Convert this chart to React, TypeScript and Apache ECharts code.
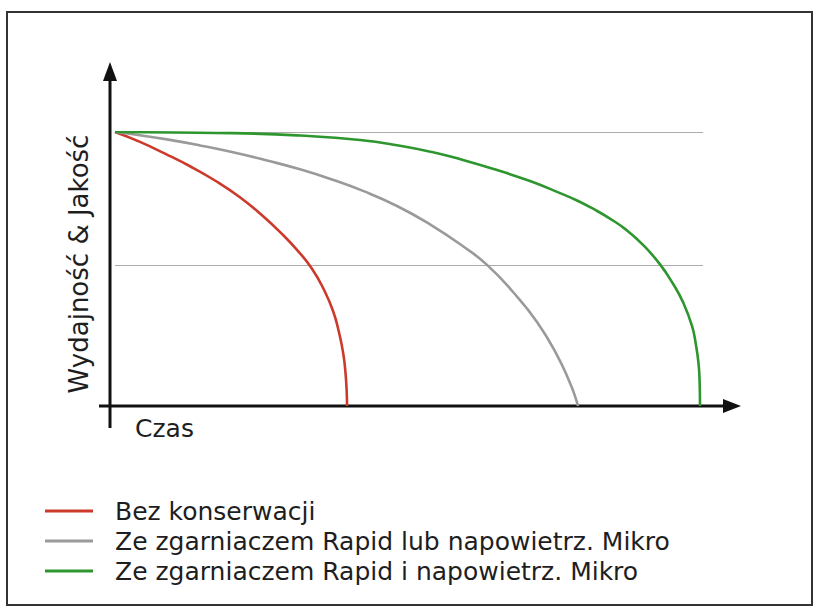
import React, { useEffect, useRef } from "react";
import * as echarts from "echarts";

const seriesNames = [
  "Bez konserwacji",
  "Ze zgarniaczem Rapid lub napowietrz. Mikro",
  "Ze zgarniaczem Rapid i napowietrz. Mikro",
];

const redData: [number, number][] = [
  [0, 100], [4.25, 96.4], [8.5, 92.1], [12.76, 87.5], [17.0, 82.3], [21.3, 76.1],
  [25.0, 69.6], [28.4, 62.8], [31.1, 56.6], [33.5, 50.1], [35.5, 42.6], [37.1, 34.6],
  [38.1, 26.8], [38.8, 19.4], [39.2, 12.1], [39.4, 5.5], [39.46, 0],
];

const grayData: [number, number][] = [
  [0, 100], [4.25, 98.8], [8.84, 97.3], [14.46, 95.1], [20.07, 92.6], [25.85, 89.6],
  [31.46, 86.4], [36.9, 82.7], [42.18, 78.5], [47.96, 73.0], [53.57, 66.3], [59.18, 58.3],
  [63.27, 51.5], [67.69, 41.6], [71.77, 30.7], [75.17, 18.6], [77.38, 8.4], [78.23, 3.6],
  [78.74, 0],
];

const greenData: [number, number][] = [
  [0, 100], [10.03, 99.8], [20.07, 99.6], [31.46, 98.7], [41.67, 97.1], [48.47, 95.0],
  [53.91, 92.7], [59.18, 89.8], [64.97, 86.1], [70.58, 82.1], [75.68, 77.7], [78.57, 75.0],
  [81.29, 72.0], [84.18, 68.4], [87.07, 64.1], [89.8, 58.8], [92.69, 51.7], [94.9, 44.6],
  [96.6, 37.9], [98.13, 29.2], [98.8, 22.3], [99.27, 14.9], [99.44, 7.5], [99.49, 0],
];

const gridLineValues = [100, 51.5];

const colors = ["#cc3a2c", "#9a9a9a", "#2e962f"];

const yLabel = "Wydajność & Jakość";
const xLabel = "Czas";

export default function App() {
  const ref = useRef<HTMLDivElement>(null);
  useEffect(() => {
    if (!ref.current) return;
    const chart = echarts.init(ref.current, null, { renderer: "svg" });
    const font = "DejaVu Sans";
    const datas = [redData, grayData, greenData];
    chart.setOption({
      animation: false,
      backgroundColor: "#ffffff",
      grid: { left: 115, right: 116, top: 132, bottom: 206 },
      xAxis: { type: "value", min: 0, max: 100, show: false },
      yAxis: { type: "value", min: 0, max: 100, show: false },
      legend: {
        orient: "vertical",
        left: 45,
        top: 496,
        padding: 0,
        itemWidth: 48,
        itemHeight: 3,
        itemGap: 0,
        icon: "rect",
        textStyle: {
          fontFamily: font,
          fontSize: 25,
          lineHeight: 30,
          color: "#1e1e1e",
          padding: [0, 0, 0, 17],
        },
        data: seriesNames,
      },
      series: datas.map((d, i) => ({
        name: seriesNames[i],
        type: "line",
        data: d,
        showSymbol: false,
        smooth: 0.5,
        lineStyle: { color: colors[i], width: 2.6 },
        itemStyle: { color: colors[i] },
        z: 3 + i,
        markLine:
          i === 0
            ? {
                silent: true,
                symbol: "none",
                label: { show: false },
                lineStyle: { color: "#acacac", width: 1.2, type: "solid" },
                data: gridLineValues.map((v) => ({ yAxis: v })),
                z: 1,
              }
            : undefined,
      })),
      graphic: [
        {
          type: "rect",
          shape: { x: 7, y: 12, width: 805, height: 593 },
          style: { fill: "none", stroke: "#333", lineWidth: 2 },
          silent: true,
        },
        {
          type: "line",
          shape: { x1: 110, y1: 428, x2: 110, y2: 78 },
          style: { stroke: "#111", lineWidth: 3 },
        },
        {
          type: "polygon",
          shape: { points: [[110, 62], [103, 81], [117, 81]] },
          style: { fill: "#111" },
        },
        {
          type: "line",
          shape: { x1: 99, y1: 406, x2: 726, y2: 406 },
          style: { stroke: "#111", lineWidth: 3 },
        },
        {
          type: "polygon",
          shape: { points: [[741, 406], [723, 399], [723, 413]] },
          style: { fill: "#111" },
        },
        {
          type: "text",
          x: 79,
          y: 264,
          rotation: Math.PI / 2,
          style: {
            text: yLabel,
            fontFamily: font,
            fontSize: 26,
            fill: "#1e1e1e",
            align: "center",
            verticalAlign: "middle",
          },
        },
        {
          type: "text",
          x: 135,
          y: 428,
          style: {
            text: xLabel,
            fontFamily: font,
            fontSize: 25,
            fill: "#1e1e1e",
            align: "left",
            verticalAlign: "middle",
          },
        },
      ],
    });
    return () => chart.dispose();
  }, []);
  return (
    <div
      ref={ref}
      style={{ position: "fixed", left: 0, top: 0, width: 819, height: 612 }}
    />
  );
}
